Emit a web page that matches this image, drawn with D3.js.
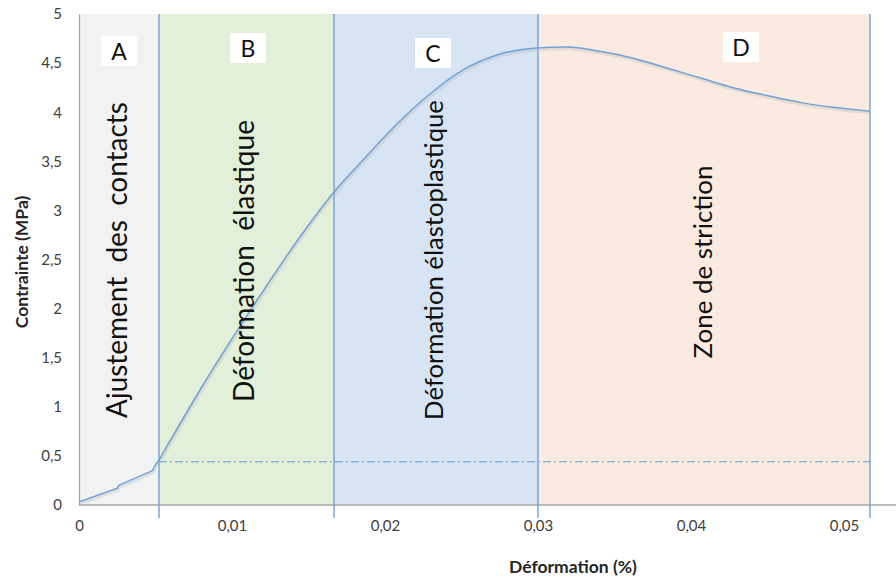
<!DOCTYPE html>
<html><head><meta charset="utf-8">
<script src="https://cdn.jsdelivr.net/npm/d3@7"></script>
<style>html,body{margin:0;padding:0;background:#fff;}svg{display:block;}</style>
</head><body>
<svg id="c" width="896" height="581"></svg>
<script>
// ---- data ----
const strain = [0, 0.0025, 0.0026, 0.0048, 0.0050, 0.00523, 0.00595, 0.00791, 0.01118, 0.01444, 0.01667, 0.01856, 0.02078, 0.02294, 0.0251, 0.02732, 0.02993, 0.0319, 0.03405, 0.03621, 0.03843, 0.04059, 0.04275, 0.04497, 0.04712, 0.04928, 0.0517];
const stress = [0.03, 0.17, 0.20, 0.35, 0.41, 0.458, 0.652, 1.171, 1.976, 2.729, 3.187, 3.513, 3.880, 4.185, 4.430, 4.582, 4.654, 4.664, 4.62, 4.55, 4.45, 4.35, 4.25, 4.17, 4.10, 4.05, 4.01];
const zoneLetters = ["A", "B", "C", "D"];
const zoneNames = ["Ajustement  des  contacts", "Déformation  élastique", "Déformation élastoplastique", "Zone de striction"];
const zoneBounds = [0, 0.00523, 0.01667, 0.0300, 0.0517];
const thresholdStress = 0.44;
const xTicks = [0, 0.01, 0.02, 0.03, 0.04, 0.05];
const xTickLabels = ["0", "0,01", "0,02", "0,03", "0,04", "0,05"];
const yTicks = [0, 0.5, 1, 1.5, 2, 2.5, 3, 3.5, 4, 4.5, 5];
const yTickLabels = ["0", "0,5", "1", "1,5", "2", "2,5", "3", "3,5", "4", "4,5", "5"];
const xTitle = "Déformation (%)";
const yTitle = "Contrainte (MPa)";

(function () {
const svg = d3.select("#c");
const mLeft = 79, mRight = 896, mTop = 14, mBottom = 505;
const x = d3.scaleLinear().domain([0, 0.0534]).range([mLeft, mRight]);
const y = d3.scaleLinear().domain([0, 5]).range([mBottom, mTop]);
const FONT = "Lato, 'Open Sans', sans-serif";
const zoneFill = ["#f2f2f2", "#e2f0d9", "#d6e4f3", "#fbeae0"];
const lineCol = "#6fa0d8";

const zones = zoneLetters.map((l, i) => ({l, name: zoneNames[i], x0: zoneBounds[i], x1: zoneBounds[i + 1]}));
svg.append("g").selectAll("rect").data(zones).join("rect")
  .attr("x", d => x(d.x0)).attr("y", y(5))
  .attr("width", d => x(d.x1) - x(d.x0)).attr("height", y(0) - y(5))
  .attr("fill", (d, i) => zoneFill[i]);

const xAxis = svg.append("g").attr("transform", `translate(0,${mBottom})`)
  .call(d3.axisBottom(x).tickValues(xTicks).tickFormat((d, i) => xTickLabels[i]).tickSize(0).tickPadding(15));
const yAxis = svg.append("g").attr("transform", `translate(${mLeft},0)`)
  .call(d3.axisLeft(y).tickValues(yTicks).tickFormat((d, i) => yTickLabels[i]).tickSize(0).tickPadding(17));
[xAxis, yAxis].forEach(g => {
  g.select(".domain").attr("stroke", "#a6a6a6").attr("stroke-width", 1.3);
  g.selectAll("text").attr("font-family", FONT).attr("font-size", 15).attr("fill", "#404040");
});
xAxis.select(".domain").attr("d", `M${mLeft},0H${mRight}`);

svg.append("g").selectAll("line").data(zoneBounds.slice(1)).join("line")
  .attr("x1", d => x(d)).attr("x2", d => x(d))
  .attr("y1", y(5)).attr("y2", mBottom + 13)
  .attr("stroke", lineCol).attr("stroke-width", 1.4);

svg.append("line")
  .attr("x1", x(zoneBounds[1])).attr("x2", x(zoneBounds[4]))
  .attr("y1", y(thresholdStress)).attr("y2", y(thresholdStress))
  .attr("stroke", "#5b9bd5").attr("stroke-width", 1.1)
  .attr("stroke-dasharray", "8,3,2,3");

// curve: linear in zone A (step-like contact adjustment), smooth afterwards
const pts = strain.map((s, i) => [s, stress[i]]);
const splitIdx = strain.indexOf(zoneBounds[1]);
const lineLin = d3.line().x(d => x(d[0])).y(d => y(d[1]));
const lineSm = d3.line().x(d => x(d[0])).y(d => y(d[1])).curve(d3.curveMonotoneX);
const dPath = lineLin(pts.slice(0, splitIdx + 1)) + "L" + lineSm(pts.slice(splitIdx)).slice(1);
svg.append("path").attr("d", dPath)
  .attr("fill", "none").attr("stroke", "#bbb").attr("stroke-width", 2.5).attr("opacity", 0.35)
  .attr("transform", "translate(1,2)");
svg.append("path").attr("d", dPath)
  .attr("fill", "none").attr("stroke", lineCol).attr("stroke-width", 1.5).attr("stroke-linejoin", "round");

const nameCx = [118, 245, 434, 703];
const nameCy = [260, 261, 260, 262];
const nameLen = [316, 282, 320, 193];
zones.forEach((d, i) => {
  const t = svg.append("text")
    .attr("transform", `translate(${nameCx[i] + 9},${nameCy[i]}) rotate(-90)`)
    .attr("text-anchor", "middle").attr("font-family", FONT)
    .attr("font-size", 26).attr("fill", "#111")
    .style("white-space", "pre").text(d.name);
  const w = t.node().getComputedTextLength();
  t.attr("font-size", 26 * nameLen[i] / w);
});

const letterCx = [119, 248, 433, 741];
const letterCy = [51, 48, 53, 47];
zones.forEach((d, i) => {
  svg.append("rect").attr("x", letterCx[i] - 18).attr("y", letterCy[i] - 15)
    .attr("width", 36).attr("height", 30).attr("fill", "#fff");
  svg.append("text").attr("x", letterCx[i]).attr("y", letterCy[i] + 8.5)
    .attr("text-anchor", "middle").attr("font-family", FONT)
    .attr("font-size", 23).attr("fill", "#111").text(d.l);
});

svg.append("text").attr("x", 573).attr("y", 573).attr("text-anchor", "middle")
  .attr("font-family", FONT).attr("font-weight", "bold").attr("font-size", 17.5).attr("fill", "#262626").text(xTitle);
svg.append("text").attr("transform", "translate(28,262) rotate(-90)").attr("text-anchor", "middle")
  .attr("font-family", FONT).attr("font-weight", "bold").attr("font-size", 17.5).attr("fill", "#262626").text(yTitle);
})();
</script>
</body></html>
